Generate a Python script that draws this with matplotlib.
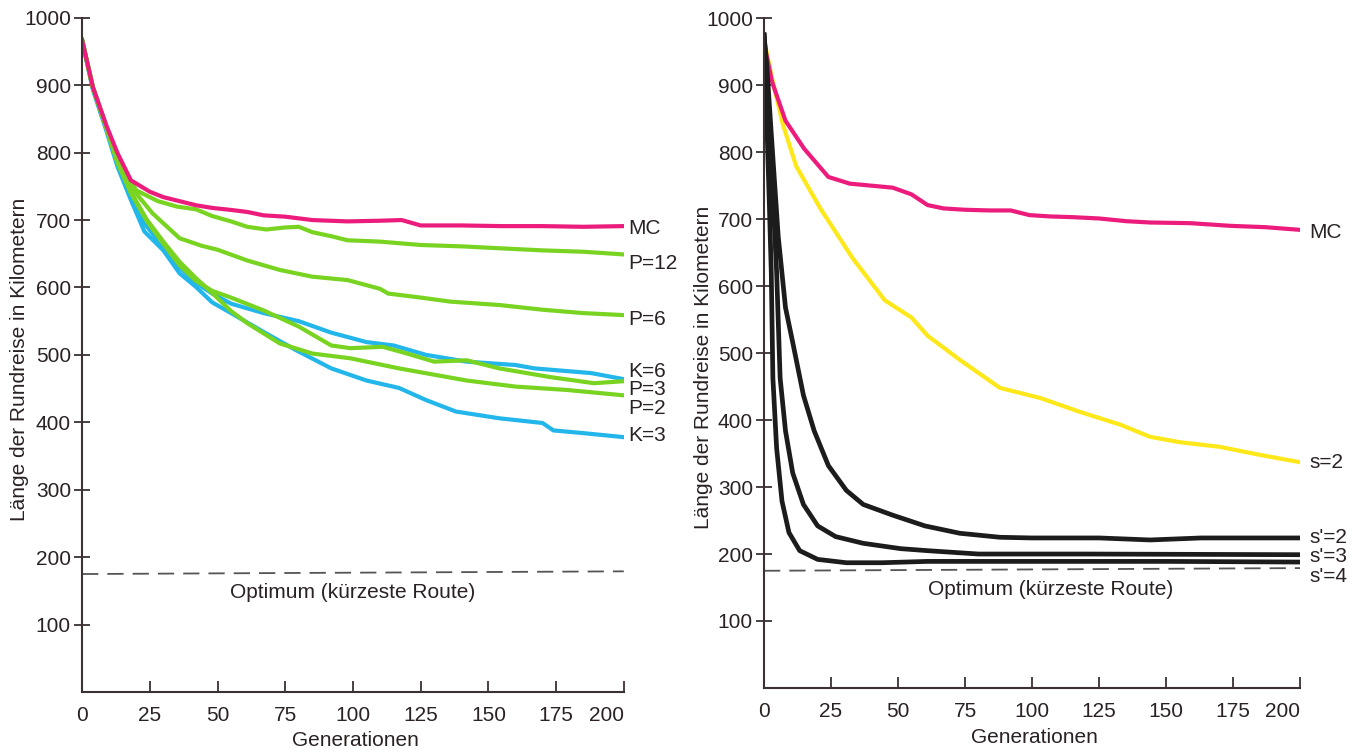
import matplotlib.pyplot as plt

plt.rcParams["font.family"] = ["Liberation Sans", "DejaVu Sans"]

# ---- left panel: Monte Carlo vs. parallel / clustered strategies ----
mc_l_x = [0, 4, 9, 13, 18, 25, 30, 36, 42, 48, 55, 61, 67, 75, 85, 98, 110, 118, 125, 140, 155, 170, 185, 200]
mc_l_y = [967, 897, 840, 800, 759, 742, 734, 728, 722, 718, 715, 712, 707, 705, 700, 698, 699, 700, 692, 692, 691, 691, 690, 691]

p12_x = [0, 4, 9, 13, 20, 28, 35, 42, 48, 55, 61, 68, 75, 80, 85, 92, 98, 110, 125, 140, 155, 170, 185, 200]
p12_y = [967, 897, 838, 795, 744, 728, 720, 716, 706, 698, 690, 686, 689, 690, 682, 676, 670, 668, 663, 661, 658, 655, 653, 649]

p6_x = [0, 4, 9, 13, 18, 26, 36, 44, 50, 61, 73, 85, 98, 110, 113, 125, 136, 154, 170, 185, 200]
p6_y = [967, 897, 838, 790, 749, 710, 673, 662, 656, 640, 626, 616, 611, 598, 591, 585, 579, 574, 567, 562, 559]

k6_x = [0, 4, 9, 13, 18, 23, 30, 36, 42, 48, 55, 67, 80, 92, 105, 115, 127, 142, 160, 167, 188, 200]
k6_y = [967, 895, 835, 785, 738, 695, 660, 630, 607, 591, 576, 562, 550, 533, 519, 514, 500, 490, 485, 480, 473, 464]

p3_x = [0, 4, 9, 13, 18, 24, 30, 36, 42, 48, 55, 67, 80, 92, 99, 111, 120, 130, 142, 154, 173, 189, 200]
p3_y = [967, 896, 836, 786, 740, 698, 665, 633, 610, 595, 585, 566, 542, 514, 510, 512, 502, 490, 492, 480, 467, 458, 461]

p2_x = [0, 4, 9, 13, 18, 24, 30, 36, 42, 48, 55, 61, 73, 85, 99, 117, 142, 160, 179, 200]
p2_y = [967, 896, 837, 787, 742, 700, 668, 638, 614, 592, 565, 547, 517, 502, 495, 480, 462, 453, 448, 440]

k3_x = [0, 4, 9, 13, 18, 23, 30, 36, 42, 48, 55, 67, 79, 92, 105, 117, 127, 138, 154, 170, 174, 185, 200]
k3_y = [967, 893, 832, 780, 730, 683, 655, 621, 601, 578, 562, 534, 507, 480, 462, 451, 433, 416, 406, 399, 388, 384, 378]

# ---- right panel: Monte Carlo vs. selection strategies ----
mc_r_x = [0, 3, 8, 15, 24, 32, 40, 48, 55, 61, 67, 75, 84, 92, 99, 107, 115, 125, 135, 144, 159, 174, 187, 200]
mc_r_y = [963, 905, 847, 805, 763, 753, 750, 747, 737, 721, 716, 714, 713, 713, 706, 704, 703, 701, 697, 695, 694, 690, 688, 684]

s2_x = [0, 3, 7, 12, 21, 33, 45, 55, 61, 73, 88, 103, 118, 133, 144, 155, 170, 185, 200]
s2_y = [968, 910, 842, 779, 716, 642, 579, 553, 526, 490, 448, 433, 412, 393, 375, 367, 360, 348, 337]

sp2_x = [0, 1, 2, 3.5, 5.3, 8, 10.7, 14.7, 18.7, 24, 30.7, 37, 48, 60, 73, 88, 100, 125, 144, 163, 200]
sp2_y = [975, 930, 870, 780, 674, 568, 516, 437, 384, 332, 295, 274, 258, 242, 231, 225, 224, 224, 221, 224, 224]

sp3_x = [0, 0.8, 1.5, 3, 4.7, 6, 8, 10.7, 14.7, 20, 26.7, 37, 51, 61, 80, 120, 200]
sp3_y = [975, 930, 880, 760, 621, 463, 384, 321, 274, 242, 226, 216, 208, 205, 200, 200, 199]

sp4_x = [0, 0.5, 1, 2, 2.7, 3.3, 4.7, 6.7, 9.3, 13.3, 20, 30.7, 44, 61, 100, 150, 200]
sp4_y = [975, 930, 850, 720, 621, 463, 358, 279, 232, 205, 192, 187, 187, 189, 189, 189, 188]

opt_x = [0, 200]
opt_y = [175, 179]

y_ticks = [100, 200, 300, 400, 500, 600, 700, 800, 900, 1000]
x_ticks = [0, 25, 50, 75, 100, 125, 150, 175, 200]

left_labels = ["MC", "P=12", "P=6", "K=6", "P=3", "P=2", "K=3"]
left_label_y = [688, 635, 552, 476, 449, 421, 380]
right_labels = ["MC", "s=2", "s'=2", "s'=3", "s'=4"]
right_label_y = [680, 337, 224, 197, 166]

MAGENTA = "#ec1c7c"
GREEN = "#79d321"
BLUE = "#22b6ea"
YELLOW = "#ffe81a"
BLACK = "#1c1c1c"
AXC = "#3a3232"
TXT = "#2a2222"

fig = plt.figure(figsize=(13.68, 7.5), dpi=100)
ax1 = fig.add_axes([0.060, 0.0773, 0.396, 0.899])
ax2 = fig.add_axes([0.5585, 0.0827, 0.392, 0.893])


def style_axes(ax, label_x, label_y, xlabel_y, opt_text_x):
    ax.set_xlim(0, 200)
    ax.set_ylim(0, 1000)
    for side in ["top", "right"]:
        ax.spines[side].set_visible(False)
    for side in ["left", "bottom"]:
        ax.spines[side].set_color(AXC)
        ax.spines[side].set_linewidth(1.5)
    ax.set_xticks(x_ticks)
    ax.set_yticks(y_ticks)
    ax.tick_params(axis="x", direction="in", length=8, width=1.3, color=AXC,
                   labelsize=15, pad=10, labelcolor=TXT)
    ax.tick_params(axis="y", direction="inout", length=12, width=1.3, color=AXC,
                   labelsize=15, pad=2, labelcolor=TXT)
    ax.get_xticklabels()[-1].set_horizontalalignment("right")
    ax.set_xlabel("Generationen", fontsize=15, color=TXT)
    ax.xaxis.set_label_coords(0.505, xlabel_y)
    ax.set_ylabel("Länge der Rundreise in Kilometern", fontsize=15, color=TXT)
    ax.yaxis.set_label_coords(label_x, label_y)
    ax.plot(opt_x, opt_y, color="#555555", linewidth=1.3, dashes=(9, 5))
    ax.text(opt_text_x, 147, "Optimum (kürzeste Route)", fontsize=15, color=TXT,
            ha="center", va="center")


style_axes(ax1, -0.098, 0.494, -0.058, 100)
style_axes(ax2, -0.095, 0.479, -0.060, 107)

lw = 3.0
ax1.plot(k3_x, k3_y, color=BLUE, linewidth=lw)
ax1.plot(k6_x, k6_y, color=BLUE, linewidth=lw)
ax1.plot(p2_x, p2_y, color=GREEN, linewidth=lw)
ax1.plot(p3_x, p3_y, color=GREEN, linewidth=lw)
ax1.plot(p6_x, p6_y, color=GREEN, linewidth=lw)
ax1.plot(p12_x, p12_y, color=GREEN, linewidth=lw)
ax1.plot(mc_l_x, mc_l_y, color=MAGENTA, linewidth=lw)

for lab, yv in zip(left_labels, left_label_y):
    ax1.text(201.5, yv, lab, fontsize=15, color=TXT, ha="left", va="center",
             clip_on=False)

ax2.plot(s2_x, s2_y, color=YELLOW, linewidth=lw)
ax2.plot(mc_r_x, mc_r_y, color=MAGENTA, linewidth=lw)
ax2.plot(sp2_x, sp2_y, color=BLACK, linewidth=3.4)
ax2.plot(sp3_x, sp3_y, color=BLACK, linewidth=3.4)
ax2.plot(sp4_x, sp4_y, color=BLACK, linewidth=3.4)

for lab, yv in zip(right_labels, right_label_y):
    ax2.text(203.5, yv, lab, fontsize=15, color=TXT, ha="left", va="center",
             clip_on=False)

fig.savefig("out.png", dpi=100)
